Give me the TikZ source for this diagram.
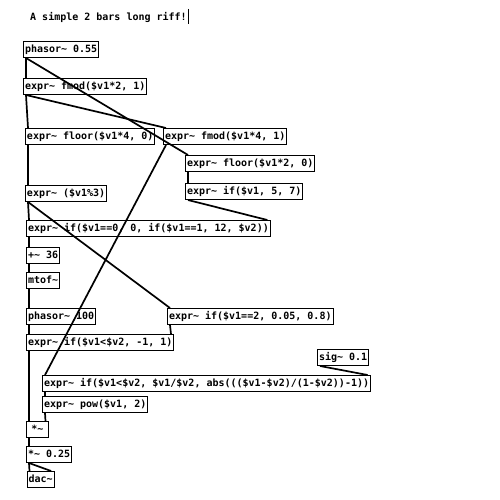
\documentclass[tikz,border=0pt]{standalone}
\usepackage{fontspec}
\newfontfamily\pdfont{DejaVu Sans Mono}
\tikzset{
  obj/.style={draw=black, line width=1pt, anchor=north west, inner xsep=1.5pt, inner ysep=0pt,
    minimum height=16pt, text height=7.5pt, text depth=2pt,
    font=\pdfont\bfseries\fontsize{10}{12}\selectfont},
  conn/.style={line width=1.7pt, black},
}
\newcommand{\tld}{\textasciitilde}
\begin{document}
\begin{tikzpicture}[x=1pt,y=-1pt]
\useasboundingbox (0,0) rectangle (500,500);
\fill[white] (0,0) rectangle (500,500);
% comment
\node[anchor=west, inner sep=0pt, font=\pdfont\bfseries\fontsize{10}{12}\selectfont] (cmt) at (30,17) {A simple 2 bars long riff!};
\draw[line width=1pt] ([xshift=2pt]cmt.east |- 0,9) coordinate (b1) -- ([xshift=2pt]cmt.east |- 0,24) coordinate (b2);
% objects
\node[obj] (ph1) at (23,41) {phasor\tld{} 0.55};
\node[obj] (fm2) at (23,78) {expr\tld{} fmod(\$v1*2, 1)};
\node[obj] (fl4) at (25,128) {expr\tld{} floor(\$v1*4, 0)};
\node[obj] (fm4) at (163,128) {expr\tld{} fmod(\$v1*4, 1)};
\node[obj] (fl2) at (185,155) {expr\tld{} floor(\$v1*2, 0)};
\node[obj] (i57) at (185,183) {expr\tld{} if(\$v1, 5, 7)};
\node[obj] (md3) at (25,185) {expr\tld{} (\$v1\%3)};
\node[obj] (sel) at (26,220) {expr\tld{} if(\$v1==0, 0, if(\$v1==1, 12, \$v2))};
\node[obj] (p36) at (26,247) {+\tld{} 36};
\node[obj] (mtf) at (26,272) {mtof\tld{}};
\node[obj] (ph2) at (26,308) {phasor\tld{} 100};
\node[obj] (wid) at (167,308) {expr\tld{} if(\$v1==2, 0.05, 0.8)};
\node[obj] (sgn) at (26,334) {expr\tld{} if(\$v1<\$v2, -1, 1)};
\node[obj] (sig) at (317,349) {sig\tld{} 0.1};
\node[obj] (shp) at (42,375) {expr\tld{} if(\$v1<\$v2, \$v1/\$v2, abs(((\$v1-\$v2)/(1-\$v2))-1))};
\node[obj] (pow) at (42,396) {expr\tld{} pow(\$v1, 2)};
\node[obj, minimum width=22pt] (mul) at (26,421) {*\tld{}};
\node[obj] (m25) at (26,446) {*\tld{} 0.25};
\node[obj] (dac) at (26.5,471) {dac\tld{}};
% connections
\def\o#1{([xshift=3pt]#1.south west)}
\def\il#1{([xshift=3pt]#1.north west)}
\def\ir#1{([xshift=-3.5pt]#1.north east)}
\draw[conn] \o{ph1} -- \il{fm2};
\draw[conn] \o{ph1} -- \il{fl2};
\draw[conn] \o{fm2} -- \il{fl4};
\draw[conn] \o{fm2} -- \il{fm4};
\draw[conn] \o{fl4} -- \il{md3};
\draw[conn] \o{fm4} -- \il{shp};
\draw[conn] \o{fl2} -- \il{i57};
\draw[conn] \o{i57} -- \ir{sel};
\draw[conn] \o{md3} -- \il{sel};
\draw[conn] \o{md3} -- \il{wid};
\draw[conn] \o{sel} -- \il{p36};
\draw[conn] \o{p36} -- \il{mtf};
\draw[conn] \o{mtf} -- \il{ph2};
\draw[conn] \o{ph2} -- \il{sgn};
\draw[conn] \o{wid} -- \ir{sgn};
\draw[conn] \o{sgn} -- \il{mul};
\draw[conn] \o{sig} -- \ir{shp};
\draw[conn] \o{shp} -- \il{pow};
\draw[conn] \o{pow} -- \ir{mul};
\draw[conn] \o{mul} -- \il{m25};
\draw[conn] \o{m25} -- \il{dac};
\draw[conn] \o{m25} -- \ir{dac};
\end{tikzpicture}
\end{document}
